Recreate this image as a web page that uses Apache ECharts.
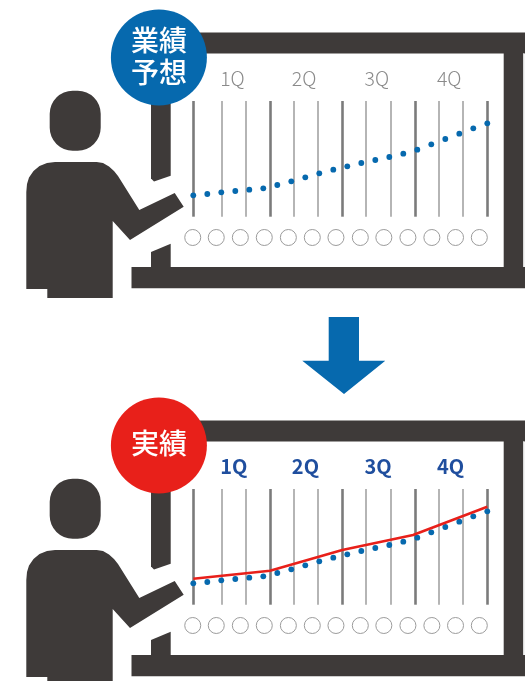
<!DOCTYPE html>
<html>
<head>
<meta charset="utf-8">
<style>html,body{margin:0;padding:0;background:#fff;overflow:hidden}#c{width:525px;height:681px}</style>
<script src="https://cdn.jsdelivr.net/npm/echarts@6/dist/echarts.min.js"></script>
</head>
<body>
<div id="c"></div>
<script>
// ---- data ----
const quarterLabels = ['1Q', '2Q', '3Q', '4Q'];
const quarterLabelX = [1.92, 7.04, 12.23, 17.40];
const gridLineX = [0, 2.03, 3.77, 5.48, 7.19, 8.90, 10.64, 12.35, 14.09, 15.84, 17.56, 19.27, 21];
const forecastValues = [21.4, 22.7, 24.4, 25.7, 27, 28.4, 31.7, 35.4, 39.4, 43.4, 47, 50.4, 53.7, 56.7, 59.7, 63, 67, 72.4, 77.7, 83, 88.4, 93.4];
const actualX = [0, 5.48, 10.64, 15.7, 21];
const actualValues = [26, 34, 54.7, 69.7, 98];
const circleX = [-0.04, 1.64, 3.36, 5.07, 6.79, 8.5, 10.19, 11.93, 13.61, 15.33, 17.04, 18.73, 20.43];
const circleY = -20.8;
const labelY = 138.6;
const lineTop = 115.7;

// ---- style ----
const DARK = '#3e3a39', BLUE = '#0669ae', RED = '#e8201a', JP = '"Noto Sans CJK JP","Noto Sans",sans-serif';
const OFFSET = 388;

function panel(i, labelStyle, withActual) {
  const out = [
    { type: 'line', xAxisIndex: i, yAxisIndex: i, z: 2, data: [], silent: true,
      markLine: { silent: true, z: 2, symbol: 'none', animation: false, label: { show: false },
        data: gridLineX.map((x, k) => [
          { xAxis: x, yAxis: 0, lineStyle: { type: 'solid', opacity: 1, color: k % 3 === 0 ? '#7b7b7b' : '#9c9c9c', width: k % 3 === 0 ? 2.6 : 1.5 } },
          { xAxis: x, yAxis: lineTop }
        ]) } },
    { type: 'scatter', xAxisIndex: i, yAxisIndex: i, z: 3, symbol: 'circle', symbolSize: 16, clip: false, silent: true,
      itemStyle: { color: '#fff', borderColor: '#9c9c9c', borderWidth: 1, opacity: 1 },
      data: circleX.map(x => [x, circleY]) },
    { type: 'scatter', xAxisIndex: i, yAxisIndex: i, z: 4, symbol: 'circle', symbolSize: 5.8, clip: false, silent: true,
      itemStyle: { color: BLUE, opacity: 1 },
      data: forecastValues.map((v, k) => [k, v]) },
    { type: 'scatter', xAxisIndex: i, yAxisIndex: i, z: 5, symbolSize: 0, clip: false, silent: true,
      itemStyle: { opacity: 1 },
      label: Object.assign({ show: true, position: 'right', distance: 0, opacity: 1, formatter: p => quarterLabels[p.dataIndex] }, labelStyle),
      data: quarterLabelX.map(x => [x, labelY]) }
  ];
  if (withActual) out.push({ type: 'line', xAxisIndex: i, yAxisIndex: i, z: 6, symbol: 'none', silent: true,
    lineStyle: { color: RED, width: 2.6 }, data: actualX.map((x, k) => [x, actualValues[k]]) });
  return out;
}

const bodyOutline = [[26.3, 289], [47.3, 289], [47.3, 298], [112.7, 298], [112.7, 221], [130, 240], [183.7, 206.7], [174.7, 193], [139.3, 210],
  [118, 176], [114, 171], [109, 166.5], [103, 163], [96.7, 162], [55, 162], [47, 163], [39.5, 166], [33.5, 171], [29, 177.5], [27, 184], [26.3, 192]];

function scene(dy, badgeColor, badgeLines, lineYs) {
  const p = (pts) => pts.map(([x, y]) => [x, y + dy]);
  const dark = { fill: DARK };
  const els = [
    { type: 'rect', z: 1, shape: { x: 190, y: 32.5 + dy, width: 335, height: 21 }, style: dark },
    { type: 'rect', z: 1, shape: { x: 503.7, y: 53 + dy, width: 19.3, height: 215 }, style: dark },
    { type: 'rect', z: 1, shape: { x: 131.5, y: 267 + dy, width: 393.5, height: 21.3 }, style: dark },
    { type: 'rect', z: 1, shape: { x: 523.4, y: 53 + dy, width: 0.8, height: 214 }, style: { fill: '#c4c4c4' } },
    { type: 'polygon', z: 1, shape: { points: p([[151, 90], [170.7, 90], [170.7, 175.7], [154, 181.5], [151, 178.5]]) }, style: dark },
    { type: 'polygon', z: 1, shape: { points: p([[151, 252], [170.7, 243.7], [170.7, 268], [151, 268]]) }, style: dark },
    { type: 'rect', z: 1, shape: { x: 49.7, y: 90.7 + dy, width: 51, height: 60, r: 23 }, style: dark },
    { type: 'polygon', z: 1, shape: { points: p(bodyOutline) }, style: dark },
    { type: 'circle', z: 20, shape: { cx: 158.9, cy: 57.4 + dy, r: 48 }, style: { fill: badgeColor } }
  ];
  badgeLines.forEach((t, k) => els.push({ type: 'text', z: 21, x: 158.9, y: lineYs[k] + dy,
    style: { text: t, fill: '#fff', font: '500 28px ' + JP, textAlign: 'center', textVerticalAlign: 'middle' } }));
  return els;
}

const arrow = { type: 'polygon', z: 1,
  shape: { points: [[328.7, 317], [359, 317], [359, 360.7], [385.3, 360.7], [344, 394], [302.3, 360.7], [328.7, 360.7]] },
  style: { fill: BLUE } };

const chart = echarts.init(document.getElementById('c'), null, { renderer: 'canvas' });
const axisX = i => ({ type: 'value', gridIndex: i, min: 0, max: 21, show: false });
const axisY = i => ({ type: 'value', gridIndex: i, min: -29, max: 160, show: false });
chart.setOption({
  animation: false,
  backgroundColor: '#fff',
  grid: [
    { left: 193.3, width: 294, top: 56.7, height: 189 },
    { left: 193.3, width: 294, top: 56.7 + OFFSET, height: 189 }
  ],
  xAxis: [axisX(0), axisX(1)],
  yAxis: [axisY(0), axisY(1)],
  graphic: { elements: [
    ...scene(0, BLUE, ['業績', '予想'], [40.7, 72.5]),
    ...scene(OFFSET, RED, ['実績'], [55.3]),
    arrow
  ] },
  series: [
    ...panel(0, { color: '#8a8a8a', fontSize: 19.5, fontWeight: 300, fontFamily: JP }, false),
    ...panel(1, { color: '#1f4e9e', fontSize: 20, fontWeight: 700, fontFamily: JP }, true)
  ]
});
</script>
</body>
</html>
